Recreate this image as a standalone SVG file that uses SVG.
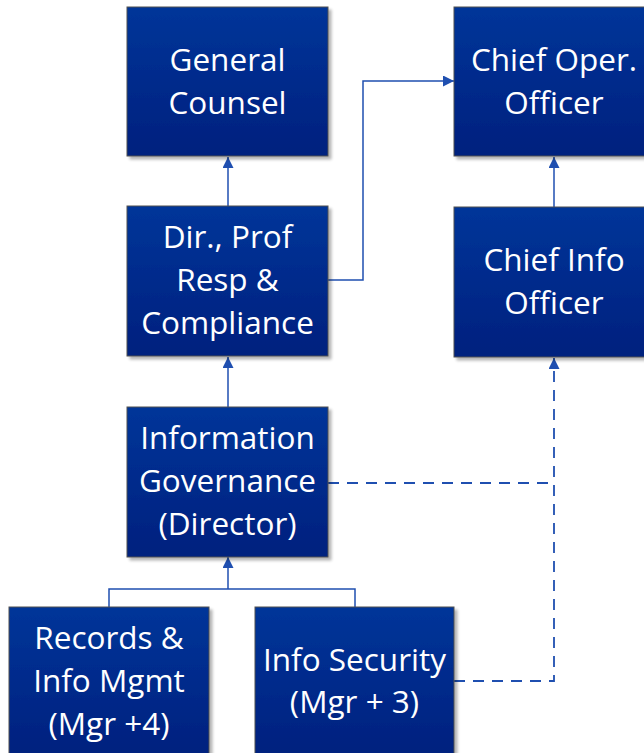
<svg xmlns="http://www.w3.org/2000/svg" width="644" height="753" viewBox="0 0 644 753">
<defs>
<linearGradient id="bg" x1="0" y1="0" x2="0" y2="1">
<stop offset="0" stop-color="#003599"/>
<stop offset="1" stop-color="#00207e"/>
</linearGradient>
<filter id="sh" x="-10%" y="-10%" width="130%" height="130%">
<feGaussianBlur in="SourceAlpha" stdDeviation="1.5"/>
<feOffset dx="2.5" dy="2.5" result="o"/>
<feComponentTransfer><feFuncA type="linear" slope="0.3"/></feComponentTransfer>
<feMerge><feMergeNode/><feMergeNode in="SourceGraphic"/></feMerge>
</filter>
<marker id="ah" viewBox="0 0 10 10" refX="10" refY="5" markerWidth="11" markerHeight="11" markerUnits="userSpaceOnUse" orient="auto">
<path d="M0,0 L10,5 L0,10 Z" fill="#1f4fb0"/>
</marker>
</defs>
<style>
.box{fill:url(#bg);stroke:#505050;stroke-width:1;filter:url(#sh)}
.t{fill:#ffffff;font-family:"Open Sans","Noto Sans","Liberation Sans",sans-serif;font-size:31.5px;text-anchor:middle}
.c{fill:none;stroke:#1f4fb0;stroke-width:1.5}
.d{fill:none;stroke:#1f4fb0;stroke-width:1.8;stroke-dasharray:11 8}
</style>
<rect width="644" height="753" fill="#ffffff"/>
<g id="connectors">
<path class="c" d="M228,407 V357" marker-end="url(#ah)"/>
<path class="c" d="M228,206 V157" marker-end="url(#ah)"/>
<path class="c" d="M328,280 H363 V81 H454" marker-end="url(#ah)"/>
<path class="c" d="M554,207 V157" marker-end="url(#ah)"/>
<path class="c" d="M109,607 V589 H355 V607"/>
<path class="c" d="M228,589 V557" marker-end="url(#ah)"/>
<path class="d" d="M328,483 H554"/>
<path class="d" d="M454,681 H554 V358" marker-end="url(#ah)"/>
</g>
<g id="general-counsel">
<rect class="box" x="127" y="7" width="201" height="149"/>
<text class="t" x="227.5" y="71">General</text>
<text class="t" x="227.5" y="114">Counsel</text>
</g>
<g id="chief-oper-officer">
<rect class="box" x="454" y="7" width="201" height="149"/>
<text class="t" x="554" y="71">Chief Oper.</text>
<text class="t" x="554" y="114">Officer</text>
</g>
<g id="dir-prof-resp">
<rect class="box" x="127" y="206" width="201" height="150"/>
<text class="t" x="227.5" y="248">Dir., Prof</text>
<text class="t" x="227.5" y="291">Resp &amp;</text>
<text class="t" x="227.5" y="334">Compliance</text>
</g>
<g id="chief-info-officer">
<rect class="box" x="454" y="207" width="201" height="150"/>
<text class="t" x="554" y="271">Chief Info</text>
<text class="t" x="554" y="314">Officer</text>
</g>
<g id="information-governance">
<rect class="box" x="127" y="407" width="201" height="150"/>
<text class="t" x="227.5" y="449">Information</text>
<text class="t" x="227.5" y="492">Governance</text>
<text class="t" x="227.5" y="535">(Director)</text>
</g>
<g id="records-info-mgmt">
<rect class="box" x="9" y="607" width="200" height="150"/>
<text class="t" x="109" y="649">Records &amp;</text>
<text class="t" x="109" y="692">Info Mgmt</text>
<text class="t" x="109" y="735">(Mgr +4)</text>
</g>
<g id="info-security">
<rect class="box" x="255" y="607" width="199" height="150"/>
<text class="t" x="354.5" y="671">Info Security</text>
<text class="t" x="354.5" y="713">(Mgr + 3)</text>
</g>
</svg>
